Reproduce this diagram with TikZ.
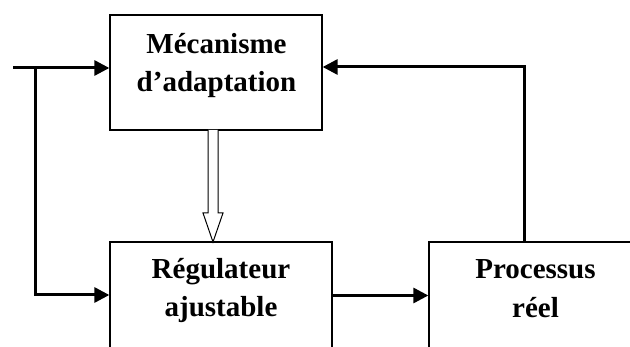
\documentclass[tikz,border=0pt]{standalone}
\usepackage{fontspec}
\setmainfont{Liberation Serif}
\usetikzlibrary{arrows.meta,calc}
\begin{document}
\begin{tikzpicture}[x=1pt,y=-1pt,
  box/.style={draw,line width=1.3pt,rectangle,inner sep=0pt},
  lbl/.style={font=\bfseries\fontsize{29}{38}\selectfont,anchor=base,inner sep=0pt},
  sig/.style={line width=3pt},
  tip/.style={-{Triangle[length=15pt,width=15pt]}},
  hollow/.style={draw,line width=1pt,fill=white,line join=miter}]
\useasboundingbox (0,0) rectangle (630,347);
\clip (0,0) rectangle (630,347);

% blocks
\node[box,minimum width=212pt,minimum height=115pt] (mec) at (216,72.5) {};
\node[box,minimum width=222pt,minimum height=120pt] (reg) at (221,302) {};
\node[box,minimum width=212pt,minimum height=120pt] (proc) at (535,302) {};

% block texts
\node[lbl] (mec1) at (216.5,53.3) {Mécanisme};
\node[lbl] (mec2) at (216.5,91.5) {d’adaptation};
\node[lbl] (reg1) at (221,279) {Régulateur};
\node[lbl] (reg2) at (221,317) {ajustable};
\node[lbl] (proc1) at (535.5,279) {Processus};
\node[lbl] (proc2) at (535.5,318) {réel};

% reference input and its branch
\coordinate (inp) at (13,68);
\coordinate (split) at (35,68);
\draw[sig,tip] (inp) -- (inp -| mec.west);
\draw[sig,tip,line join=miter] (split) -- (35,295) -- (reg.west |- 0,295);

% controller to plant
\draw[sig,tip] (reg.east |- 0,295.5) -- (proc.west |- 0,295.5);

% plant output fed back to the adaptation mechanism
\coordinate (fb) at (524,242);
\draw[sig,tip,line join=miter] (fb) -- (524,67) -- (mec.east |- 0,67);

% adaptation law: hollow arrow
\coordinate (ha) at (213,130);
\coordinate (hb) at (213,242);
\draw[hollow] ($(ha)+(-5,0)$) -- ($(hb)+(-5,-29)$) -- ($(hb)+(-10,-29)$) -- (hb)
  -- ($(hb)+(10,-29)$) -- ($(hb)+(5,-29)$) -- ($(ha)+(5,0)$);
\end{tikzpicture}
\end{document}
